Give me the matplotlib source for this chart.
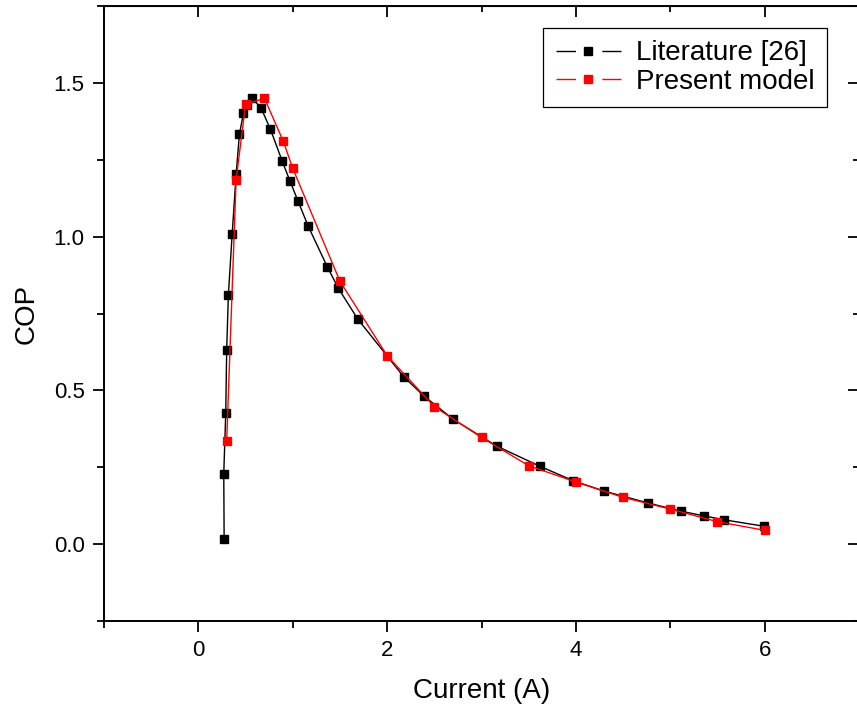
import matplotlib
matplotlib.use("Agg")
import matplotlib.pyplot as plt
from matplotlib.lines import Line2D
from matplotlib.ticker import MultipleLocator

plt.rcParams['font.family'] = ['Liberation Sans', 'DejaVu Sans']

# COP vs current, literature data [26]
lit_current = [0.273, 0.269, 0.29, 0.30, 0.318, 0.358, 0.40, 0.435, 0.478, 0.517,
               0.570, 0.666, 0.761, 0.889, 0.969, 1.054, 1.165, 1.366, 1.483, 1.691,
               2.176, 2.389, 2.70, 3.16, 3.62, 3.974, 4.303, 4.763, 5.117, 5.354,
               5.573, 5.995]
lit_cop = [0.018, 0.229, 0.426, 0.632, 0.811, 1.008, 1.203, 1.333, 1.402, 1.428,
           1.451, 1.417, 1.351, 1.245, 1.182, 1.117, 1.033, 0.902, 0.832, 0.731,
           0.544, 0.482, 0.406, 0.319, 0.253, 0.206, 0.172, 0.134, 0.107, 0.092,
           0.079, 0.058]

# COP vs current, present model
model_current = [0.3, 0.4, 0.5, 0.7, 0.9, 1.0, 1.5, 2.0, 2.5, 3.0, 3.5, 4.0,
                 4.5, 5.0, 5.5, 6.0]
model_cop = [0.335, 1.185, 1.43, 1.45, 1.31, 1.222, 0.855, 0.613, 0.447, 0.347,
             0.255, 0.202, 0.152, 0.114, 0.073, 0.045]

fig = plt.figure(figsize=(8.57, 7.13), dpi=100)
ax = fig.add_axes([104 / 857, 1 - 621 / 713, 755 / 857, 615 / 713])

ax.plot(lit_current, lit_cop, color='black', lw=1.0, marker='s', ms=5.5,
        mec='black', mfc='black', zorder=3)
ax.plot(model_current, model_cop, color='red', lw=1.0, marker='s', ms=5.5,
        mec='red', mfc='red', zorder=4)

ax.set_xlim(-1, 7)
ax.set_ylim(-0.25, 1.75)
ax.xaxis.set_major_locator(MultipleLocator(2))
ax.xaxis.set_minor_locator(MultipleLocator(1))
ax.yaxis.set_major_locator(MultipleLocator(0.5))
ax.yaxis.set_minor_locator(MultipleLocator(0.25))
ax.yaxis.set_major_formatter(matplotlib.ticker.FormatStrFormatter('%.1f'))

for s in ax.spines.values():
    s.set_linewidth(1.4)

ax.tick_params(which='major', direction='out', length=8, width=1.3,
               labelsize=16, pad=6, top=False, right=False)
ax.tick_params(which='minor', direction='out', length=5, width=1.3,
               top=False, right=False)

# inward ticks on the top and right edges
top = ax.secondary_xaxis('top')
right = ax.secondary_yaxis('right')
for sec in (top, right):
    sec.tick_params(which='major', direction='in', length=8, width=1.3)
    sec.tick_params(which='minor', direction='in', length=4, width=1.3)
top.xaxis.set_major_locator(MultipleLocator(2))
top.xaxis.set_minor_locator(MultipleLocator(1))
top.set_xticklabels([])
right.yaxis.set_major_locator(MultipleLocator(0.5))
right.yaxis.set_minor_locator(MultipleLocator(0.25))
right.set_yticklabels([])

ax.set_xlabel('Current (A)', fontsize=20, labelpad=12)
ax.set_ylabel('COP', fontsize=20, labelpad=10)

handles = [
    Line2D([], [], color='black', lw=1.0, marker='s', ms=5.5, dashes=[14, 19]),
    Line2D([], [], color='red', lw=1.0, marker='s', ms=5.5, dashes=[14, 19]),
]
leg = ax.legend(handles, ['Literature [26]', 'Present model'], fontsize=20,
                loc='upper left', bbox_to_anchor=(543 / 857, 1 - 28 / 713),
                bbox_transform=fig.transFigure, frameon=True, fancybox=False,
                edgecolor='black', framealpha=1, handlelength=2.35,
                handletextpad=0.55, labelspacing=0.08, borderpad=0.45,
                borderaxespad=0)
leg.get_frame().set_linewidth(0.9)

fig.savefig('out.png', dpi=100)
